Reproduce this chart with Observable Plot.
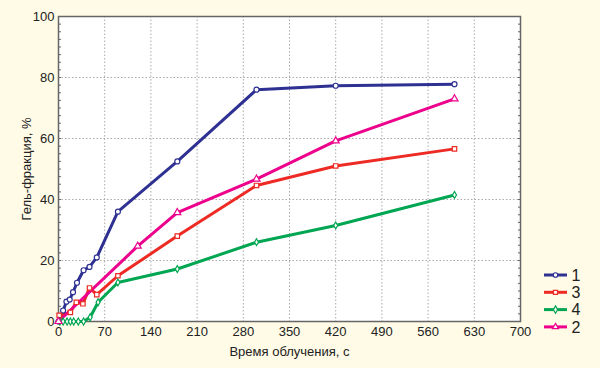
<!DOCTYPE html>
<html><head><meta charset="utf-8">
<script src="https://cdn.jsdelivr.net/npm/d3@7"></script>
<script src="https://cdn.jsdelivr.net/npm/@observablehq/plot@0.6"></script>
<style>
html,body{margin:0;padding:0;background:#fffbe6;}
</style>
</head><body>
<div id="chart"></div>
<script>
// Data
const xTicks = [0,70,140,210,280,350,420,490,560,630,700];
const yTicks = [0,20,40,60,80,100];

const s1x = [0,7,12,17,22,28,38,47,58,90,180,300,420,600];
const s1y = [0,3.6,6.5,7.2,9.6,12.7,16.8,17.9,21,36,52.5,76,77.3,77.8];

const s3x = [1,18,27,37,47,58,90,180,300,420,600];
const s3y = [2,3,6.3,5.8,11,8.8,15,28,44.6,51,56.6];

const s4x = [2,7,13,18,23,30,38,48,60,90,180,300,420,600];
const s4y = [0,0,0,0,0,0,0,1.4,6.3,12.8,17.2,26,31.5,41.5];

const s2x = [0,120,180,300,420,600];
const s2y = [0,24.7,35.7,46.7,59.2,73];

const seriesNames = ["1","3","4","2"];
const seriesColors = ["#2e3192","#ee2a24","#00a651","#ec008c"];
const seriesSymbols = ["circle","square","diamond","triangle"];
const seriesR = [2.5,2.5,2.1,2.6];
const seriesX = [s1x,s3x,s4x,s2x];
const seriesY = [s1y,s3y,s4y,s2y];

const data = seriesNames.flatMap((n,i)=>seriesX[i].map((x,j)=>({s:n, x, y:seriesY[i][j]})));
const minorY = d3.range(0,100.01,2.5);

const lineMarks = seriesNames.map((n,i)=>Plot.line(data.filter(d=>d.s===n),{x:"x",y:"y",stroke:seriesColors[i],strokeWidth:3}));
const dotMarks = seriesNames.map((n,i)=>Plot.dot(data.filter(d=>d.s===n),{x:"x",y:"y",stroke:seriesColors[i],fill:"white",strokeWidth:1.2,symbol:seriesSymbols[i],r:seriesR[i]}));

const chart = Plot.plot({
  width:600, height:368,
  marginLeft:58, marginRight:80, marginTop:16, marginBottom:47,
  style:{background:"#fffbe6", fontFamily:"'Liberation Sans', Arial, sans-serif", fontSize:"13px", color:"#222"},
  x:{domain:[0,700]},
  y:{domain:[0,100]},
  marks:[
    Plot.frame({fill:"white", stroke:null}),
    Plot.gridX(xTicks.slice(1,-1),{stroke:"#aaa", strokeOpacity:1, strokeDasharray:"1.5,2"}),
    Plot.gridY(yTicks.slice(1,-1),{stroke:"#aaa", strokeOpacity:1, strokeDasharray:"1.5,2"}),
    Plot.axisY({anchor:"right", ticks:minorY, tickSize:-3, tickFormat:()=>"", label:null, stroke:"#666"}),
    Plot.axisY({anchor:"left", ticks:minorY, tickSize:-3, tickFormat:()=>"", label:null, stroke:"#666"}),
    Plot.frame({stroke:"#666", strokeWidth:1.5}),
    Plot.axisX({ticks:xTicks, tickSize:0, tickPadding:5, label:"Время облучения, с", labelAnchor:"center", labelArrow:"none", labelOffset:34, fontSize:13}),
    Plot.axisY({ticks:yTicks, tickSize:0, tickPadding:4, label:"Гель-фракция, %", labelAnchor:"center", labelArrow:"none", labelOffset:37, fontSize:13}),
    ...lineMarks,
    ...dotMarks
  ]
});
document.getElementById("chart").appendChild(chart);

// Legend
const svg = d3.select(chart);
const lg = svg.append("g").attr("font-family","'Liberation Sans', Arial, sans-serif").attr("font-size",16).attr("fill","#222");
seriesNames.forEach((n,i)=>{
  const yy = 275 + i*17.3;
  lg.append("line").attr("x1",544).attr("x2",567).attr("y1",yy).attr("y2",yy).attr("stroke",seriesColors[i]).attr("stroke-width",3);
  const symType = {circle:d3.symbolCircle,square:d3.symbolSquare,diamond:d3.symbolDiamond,triangle:d3.symbolTriangle}[seriesSymbols[i]];
  lg.append("path").attr("d",d3.symbol(symType,16)()).attr("transform",`translate(555.5,${yy})`).attr("fill","white").attr("stroke",seriesColors[i]).attr("stroke-width",1.2);
  lg.append("text").attr("x",576).attr("y",yy).attr("dy","0.35em").text(n);
});
</script>
</body></html>
